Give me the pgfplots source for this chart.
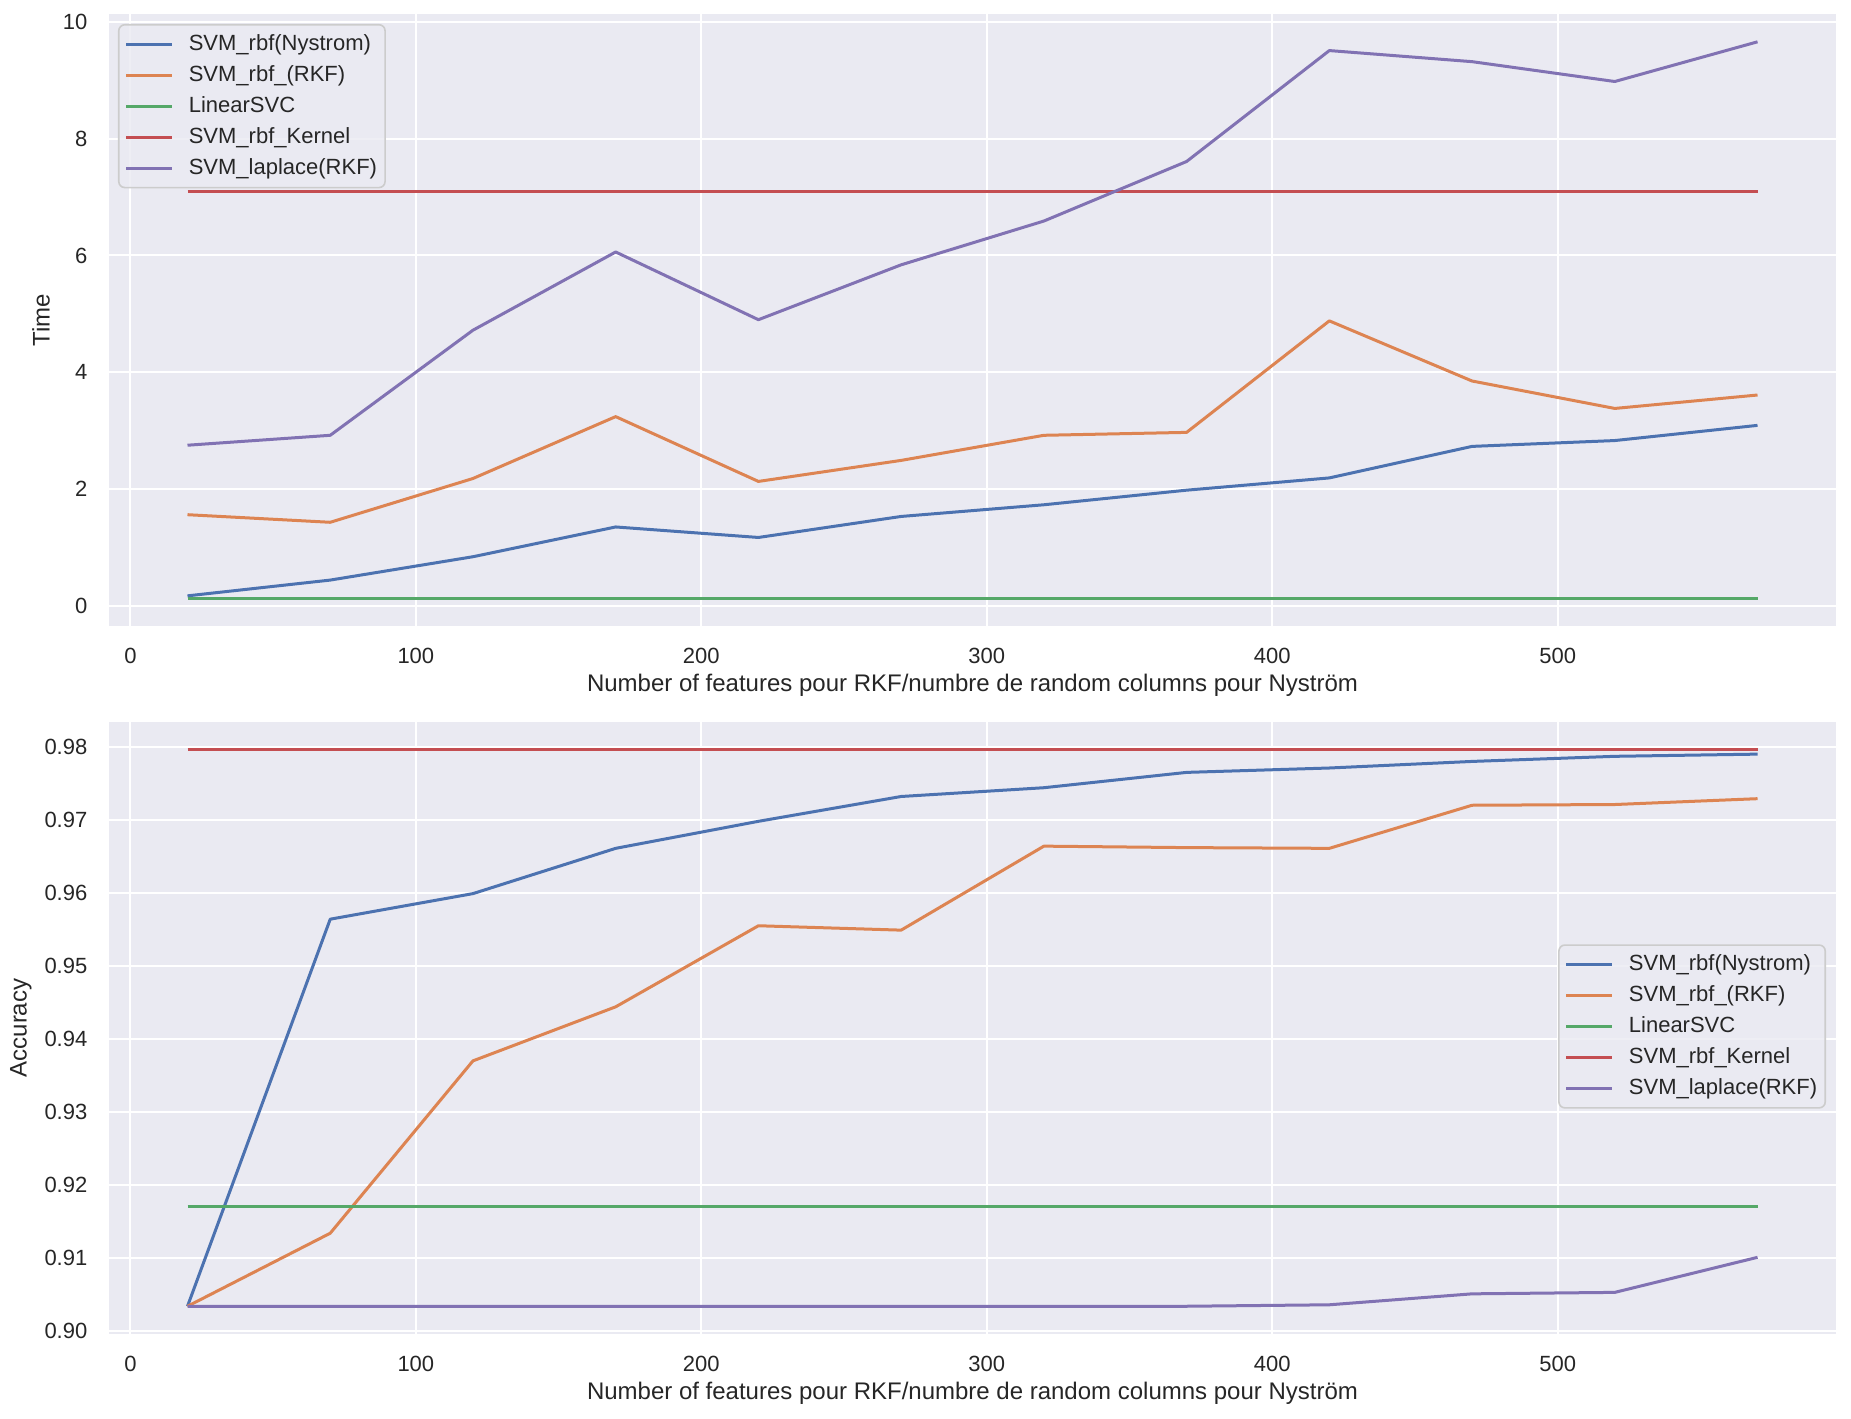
\documentclass[border=0pt]{standalone}
\usepackage{fontspec}
\setmainfont{Liberation Sans}
\usepackage{pgfplots}
\usepackage{pgfplotstable}
\pgfplotsset{compat=1.18}

\definecolor{sbblue}{HTML}{4C72B0}
\definecolor{sborange}{HTML}{DD8452}
\definecolor{sbgreen}{HTML}{55A868}
\definecolor{sbred}{HTML}{C44E52}
\definecolor{sbpurple}{HTML}{8172B3}
\definecolor{sbbg}{HTML}{EAEAF2}
\definecolor{sbtext}{HTML}{262626}
\definecolor{sbedge}{HTML}{CCCCCC}

% time (s) per method, x = number of features / random columns
\pgfplotstableread{
x   nys  rkf  lin  ker  lap
20  0.17 1.56 0.13 7.10 2.75
70  0.44 1.43 0.13 7.10 2.92
120 0.84 2.18 0.13 7.10 4.72
170 1.35 3.24 0.13 7.10 6.06
220 1.17 2.13 0.13 7.10 4.90
270 1.53 2.49 0.13 7.10 5.84
320 1.73 2.92 0.13 7.10 6.59
370 1.98 2.97 0.13 7.10 7.61
420 2.19 4.88 0.13 7.10 9.51
470 2.73 3.85 0.13 7.10 9.32
520 2.83 3.38 0.13 7.10 8.98
570 3.09 3.61 0.13 7.10 9.66
}\timetab

% accuracy per method
\pgfplotstableread{
x   nys    rkf    lin    ker    lap
20  0.9034 0.9034 0.9171 0.9796 0.9034
70  0.9564 0.9134 0.9171 0.9796 0.9034
120 0.9599 0.9370 0.9171 0.9796 0.9034
170 0.9661 0.9444 0.9171 0.9796 0.9034
220 0.9698 0.9555 0.9171 0.9796 0.9034
270 0.9732 0.9549 0.9171 0.9796 0.9034
320 0.9744 0.9664 0.9171 0.9796 0.9034
370 0.9765 0.9662 0.9171 0.9796 0.9034
420 0.9771 0.9661 0.9171 0.9796 0.9036
470 0.9780 0.9720 0.9171 0.9796 0.9051
520 0.9787 0.9721 0.9171 0.9796 0.9053
570 0.9790 0.9729 0.9171 0.9796 0.9101
}\acctab

\pgfplotsset{
  sbaxis/.style={
    scale only axis, width=863.5pt, height=306pt,
    axis background/.style={fill=sbbg},
    axis line style={draw=none},
    grid=major, major grid style={white, line width=1pt},
    major tick length=0pt,
    xmin=-7.5, xmax=597.5,
    xtick={0,100,200,300,400,500},
    /pgf/number format/assume math mode=true,
    tick label style={font=\fontsize{11}{13}\selectfont, text=sbtext},
    xticklabel style={yshift=-7.5pt},
    yticklabel style={xshift=-7.3pt},
    xlabel={Number of features pour RKF/numbre de random columns pour Nyström},
    label style={font=\fontsize{12}{14}\selectfont, text=sbtext},
    xlabel style={at={(axis description cs:0.5,-0.0964)}, anchor=center},
    every axis plot/.append style={line width=1.5pt, line join=round},
    legend image code/.code={\draw[#1] (0pt,0pt) -- (23pt,0pt);},
    legend cell align=left,
    legend style={draw=sbedge, fill=sbbg, fill opacity=0.8, text opacity=1,
      rounded corners=3pt, line width=0.8pt,
      font=\fontsize{11}{13}\selectfont, text=sbtext,
      inner xsep=3pt, inner ysep=3.2pt, row sep=2.5pt,
      /tikz/every odd column/.append style={column sep=6.5pt},
      nodes={inner sep=1pt, text height=8.5pt, text depth=2.5pt}},
  }
}

\begin{document}
\begin{tikzpicture}
\path[use as bounding box] (-54.5pt,-396pt) rectangle (871pt,313pt);

\begin{axis}[sbaxis,
  at={(0,0)}, anchor=south west,
  ymin=-0.3465, ymax=10.1365,
  ytick={0,2,4,6,8,10},
  ylabel={Time},
  ylabel style={at={(axis description cs:-0.0394,0.5)}, anchor=center},
  legend style={at={(axis description cs:0.0052,0.9837)}, anchor=north west},
]
\addplot[sbblue] table[x=x, y=nys] {\timetab};
\addlegendentry{SVM\_rbf(Nystrom)}
\addplot[sborange] table[x=x, y=rkf] {\timetab};
\addlegendentry{SVM\_rbf\_(RKF)}
\addplot[sbgreen] table[x=x, y=lin] {\timetab};
\addlegendentry{LinearSVC}
\addplot[sbred] table[x=x, y=ker] {\timetab};
\addlegendentry{SVM\_rbf\_Kernel}
\addplot[sbpurple] table[x=x, y=lap] {\timetab};
\addlegendentry{SVM\_laplace(RKF)}
\end{axis}

\begin{axis}[sbaxis,
  at={(0,-354pt)}, anchor=south west,
  ymin=0.8996, ymax=0.9834,
  ytick={0.90,0.91,0.92,0.93,0.94,0.95,0.96,0.97,0.98},
  yticklabel style={/pgf/number format/.cd, fixed, fixed zerofill, precision=2},
  ylabel={Accuracy},
  ylabel style={at={(axis description cs:-0.051,0.5)}, anchor=center},
  legend style={at={(axis description cs:0.9942,0.5025)}, anchor=east},
]
\addplot[sbblue] table[x=x, y=nys] {\acctab};
\addlegendentry{SVM\_rbf(Nystrom)}
\addplot[sborange] table[x=x, y=rkf] {\acctab};
\addlegendentry{SVM\_rbf\_(RKF)}
\addplot[sbgreen] table[x=x, y=lin] {\acctab};
\addlegendentry{LinearSVC}
\addplot[sbred] table[x=x, y=ker] {\acctab};
\addlegendentry{SVM\_rbf\_Kernel}
\addplot[sbpurple] table[x=x, y=lap] {\acctab};
\addlegendentry{SVM\_laplace(RKF)}
\end{axis}
\end{tikzpicture}
\end{document}
